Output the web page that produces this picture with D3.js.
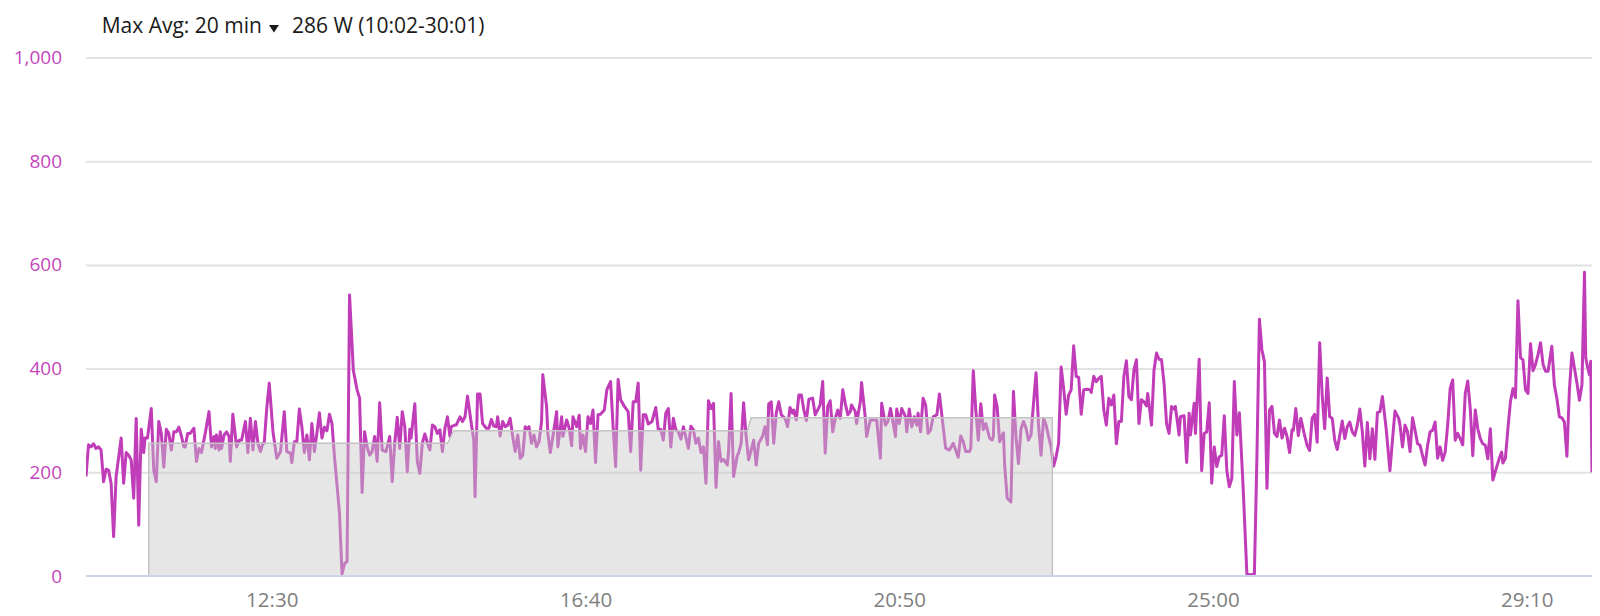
<!DOCTYPE html>
<html>
<head>
<meta charset="utf-8">
<script src="https://cdn.jsdelivr.net/npm/d3@7"></script>
<style>
  body { margin: 0; background: #fff; }
  svg { display: block; font-family: "Open Sans", sans-serif; }
</style>
</head>
<body>
<div id="app"></div>
<script>
`use strict`;

// [elapsed seconds, watts]
const power = [
  [602,192],[604,253],[606,249],[608,255],[610,246],[612,249],[614,243],[616,182],[618,206],[620,204],[622,179],[624,76],[626,192],[630,266],[632,179],[634,238],[636,233],[638,224],[640,150],[642,304],[644,98],[646,283],[648,238],[649,266],[651,266],[654,323],[656,204],[658,182],[660,298],[662,275],[664,210],[666,283],[668,275],[670,243],[672,278],[674,278],[676,287],[678,270],[680,249],[681,249],[683,275],[685,275],[688,285],[690,221],[692,246],[694,238],[697,275],[700,317],[702,249],[704,269],[705,246],[706,272],[708,243],[709,278],[710,246],[712,272],[714,278],[716,269],[717,221],[719,312],[722,249],[724,262],[726,262],[729,298],[731,238],[733,304],[735,243],[737,298],[739,256],[741,240],[743,256],[744,256],[746,323],[748,372],[751,278],[754,227],[757,240],[760,317],[762,240],[765,237],[766,219],[768,259],[770,259],[772,322],[774,288],[776,238],[778,272],[780,224],[782,294],[784,240],[786,276],[788,315],[790,266],[792,287],[794,280],[796,312],[798,294],[800,230],[804,121],[806,4],[808,24],[810,28],[812,542],[815,397],[818,359],[820,343],[822,161],[824,278],[826,249],[828,233],[830,240],[832,269],[834,221],[836,334],[838,243],[841,240],
  [844,269],[846,182],[848,256],[850,306],[852,246],[854,317],[856,288],[858,201],[860,283],[861,266],[864,332],[866,221],[868,198],[870,256],[872,274],[875,249],[876,243],[878,291],[880,288],[882,275],[884,282],[886,240],[888,285],[890,307],[892,269],[893,288],[896,291],[897,291],[900,307],[902,298],[904,307],[906,347],[909,294],[911,262],[912,153],[914,351],[916,351],[918,294],[921,285],[923,285],[925,302],[927,289],[929,288],[930,307],[932,270],[934,298],[936,288],[938,291],[940,304],[942,269],[944,240],[946,272],[948,227],[950,233],[952,288],[953,282],[955,288],[957,256],[959,272],[961,249],[963,259],[965,298],[966,388],[969,327],[970,275],[972,238],[974,269],[977,317],[978,249],[981,307],[982,269],[985,301],[987,285],[989,251],[990,307],[993,288],[995,310],[996,246],[998,272],[1000,240],[1002,307],[1004,294],[1006,320],[1008,219],[1010,311],[1012,312],[1015,320],[1017,359],[1020,375],[1022,288],[1024,211],[1026,379],[1028,340],[1031,327],[1034,317],[1036,240],[1038,336],[1040,336],[1042,372],[1044,204],[1046,311],[1048,311],[1050,293],[1053,298],[1056,325],[1058,282],[1060,283],[1062,262],[1064,314],[1066,323],[1068,249],[1070,304],[1072,282],[1074,278],[1076,264],[1078,288],[1082,246],
  [1084,289],[1086,282],[1088,256],[1090,266],[1092,238],[1094,249],[1096,179],[1098,338],[1100,323],[1102,333],[1104,171],[1106,259],[1108,221],[1110,225],[1113,214],[1114,240],[1116,352],[1118,192],[1121,233],[1122,237],[1124,256],[1126,334],[1128,269],[1130,224],[1132,243],[1134,262],[1136,214],[1138,256],[1141,269],[1143,288],[1145,253],[1146,332],[1148,336],[1150,256],[1152,314],[1154,336],[1156,311],[1159,304],[1161,288],[1163,325],[1165,314],[1166,320],[1168,301],[1170,349],[1172,349],[1174,320],[1176,300],[1178,341],[1181,343],[1183,311],[1185,320],[1187,330],[1189,375],[1191,237],[1193,327],[1195,338],[1197,278],[1199,304],[1201,320],[1203,304],[1205,359],[1207,333],[1209,311],[1211,317],[1212,330],[1215,317],[1216,294],[1219,336],[1220,373],[1223,304],[1224,269],[1227,301],[1229,301],[1232,301],[1235,227],[1236,333],[1239,291],[1241,298],[1243,323],[1244,311],[1247,269],[1248,322],[1250,294],[1252,323],[1255,307],[1256,278],[1258,322],[1260,288],[1262,307],[1264,291],[1265,314],[1267,278],[1269,343],[1271,330],[1273,275],[1275,282],[1277,307],[1280,311],[1282,351],[1285,288],[1287,246],[1290,243],[1293,256],[1297,229],[1299,270],[1301,259],[1303,240],[1306,240],[1307,246],[1309,396],[1311,320],[1313,262],[1315,332],[1317,282],[1319,294],[1322,266],
  [1324,262],[1325,269],[1326,349],[1328,327],[1330,259],[1333,276],[1334,214],[1336,150],[1339,143],[1341,356],[1343,269],[1345,217],[1347,283],[1349,298],[1351,285],[1353,262],[1355,272],[1357,333],[1359,392],[1361,291],[1363,233],[1365,304],[1367,291],[1369,269],[1371,249],[1373,212],[1375,230],[1377,256],[1379,403],[1381,362],[1383,312],[1385,349],[1387,359],[1389,444],[1391,385],[1393,383],[1395,312],[1397,359],[1400,360],[1402,359],[1403,354],[1405,385],[1407,375],[1409,381],[1411,385],[1413,320],[1415,291],[1417,343],[1419,330],[1421,349],[1423,255],[1425,298],[1427,298],[1429,385],[1431,415],[1433,346],[1435,340],[1437,397],[1439,417],[1441,294],[1443,340],[1445,336],[1447,328],[1448,352],[1451,291],[1453,397],[1455,430],[1457,418],[1459,417],[1461,372],[1463,294],[1465,275],[1467,327],[1469,322],[1470,327],[1473,272],[1474,307],[1477,309],[1479,219],[1481,314],[1482,272],[1485,333],[1486,275],[1489,418],[1491,203],[1493,275],[1495,278],[1497,334],[1499,179],[1501,249],[1503,211],[1505,230],[1507,233],[1509,309],[1511,204],[1513,172],[1515,188],[1517,375],[1519,272],[1521,315],[1524,172],[1527,4],[1530,2],[1533,4],[1535,230],[1537,495],[1539,436],[1541,413],[1543,169],[1545,320],[1547,327],[1549,275],[1551,269],[1553,301],[1555,266],[1557,285],[1559,269],[1561,238],[1563,282],
  [1564,281],[1566,323],[1568,271],[1570,304],[1573,271],[1575,252],[1577,242],[1579,304],[1581,312],[1583,258],[1585,450],[1587,349],[1589,284],[1591,382],[1593,307],[1595,304],[1597,262],[1599,244],[1601,271],[1603,299],[1605,265],[1607,288],[1609,297],[1611,278],[1613,271],[1615,291],[1617,322],[1619,278],[1621,212],[1623,296],[1625,226],[1627,284],[1629,225],[1631,315],[1633,317],[1635,346],[1638,284],[1641,203],[1643,262],[1645,318],[1648,304],[1649,291],[1651,249],[1653,291],[1655,278],[1657,240],[1659,305],[1661,281],[1663,255],[1665,252],[1667,232],[1669,214],[1671,252],[1673,278],[1675,281],[1677,297],[1679,227],[1681,249],[1683,223],[1685,239],[1687,291],[1689,362],[1691,378],[1693,262],[1695,275],[1697,265],[1699,253],[1701,352],[1703,376],[1705,323],[1707,232],[1709,320],[1711,284],[1713,265],[1715,255],[1717,252],[1719,226],[1721,284],[1723,185],[1726,210],[1728,226],[1730,239],[1731,218],[1733,227],[1735,284],[1737,336],[1739,361],[1741,344],[1743,531],[1745,421],[1747,417],[1749,359],[1751,352],[1753,448],[1755,396],[1757,408],[1759,427],[1761,450],[1763,408],[1765,395],[1767,395],[1770,443],[1772,369],[1774,343],[1776,307],[1778,305],[1780,297],[1782,231],[1784,359],[1786,430],[1788,401],[1790,372],[1792,339],[1794,369],[1796,586],[1797,421],[1798,408],[1800,388],[1801,414],[1802,200]
];

// lap averages shown as the grey band
const lapSecs = [652, 890, 895, 1129, 1132, 1372];
const lapWatts = [256, 256, 280, 280, 305, 305];

const yTicks = [0, 200, 400, 600, 800, 1000];
const xTicks = [750, 1000, 1250, 1500, 1750];
const xDomain = [602, 1802];
const title = [`Max Avg: 20 min`, `286 W (10:02-30:01)`];

const W = 1600, H = 616;
const box = {left: 86, right: 1592, top: 57.5, bottom: 576};

const x = d3.scaleLinear().domain(xDomain).range([box.left, box.right]);
const y = d3.scaleLinear().domain([0, 1000]).range([box.bottom, box.top]);

const clock = s => Math.floor(s / 60) + `:` + String(s % 60).padStart(2, `0`);

const SVG = d3.select(`#app`).append(`svg`).attr(`width`, W).attr(`height`, H);

SVG.append(`defs`).append(`clipPath`).attr(`id`, `plot`).append(`rect`)
  .attr(`x`, box.left).attr(`y`, 0).attr(`width`, box.right - box.left).attr(`height`, box.bottom + 4);

/** grid **/

SVG.append(`g`).attr(`transform`, `translate(${box.left},0)`)
  .call(d3.axisLeft(y).tickValues(yTicks.slice(1)).tickSize(-(box.right - box.left)).tickFormat(``))
  .call(g => g.select(`.domain`).remove())
  .selectAll(`line`).attr(`stroke`, `#e2e2e2`).attr(`stroke-width`, 2);

/** power line **/

SVG.append(`path`).datum(power)
  .attr(`clip-path`, `url(#plot)`)
  .attr(`d`, d3.line().x(d => x(d[0])).y(d => y(d[1])))
  .attr(`fill`, `none`)
  .attr(`stroke`, `#c03cb8`)
  .attr(`stroke-width`, 3)
  .attr(`stroke-linejoin`, `round`);

/** lap band, drawn over the line **/

let Lap = lapSecs.map((s, i) => [s, lapWatts[i]]);

SVG.append(`path`).datum(Lap)
  .attr(`d`, d3.area().x(d => x(d[0])).y0(y(0)).y1(d => y(d[1])))
  .attr(`fill`, `rgba(200,200,200,0.45)`);

SVG.append(`path`).datum([[lapSecs[0], 0], ...Lap, [lapSecs[lapSecs.length - 1], 0]])
  .attr(`d`, d3.line().x(d => x(d[0])).y(d => y(d[1])))
  .attr(`fill`, `none`)
  .attr(`stroke`, `#c4c4c4`)
  .attr(`stroke-width`, 1.5);

/** axes **/

SVG.append(`line`)
  .attr(`x1`, box.left).attr(`x2`, box.right)
  .attr(`y1`, y(0)).attr(`y2`, y(0))
  .attr(`stroke`, `#ccd6eb`).attr(`stroke-width`, 2);

SVG.append(`g`).attr(`transform`, `translate(${box.left},0)`)
  .call(d3.axisLeft(y).tickValues(yTicks).tickSize(0).tickPadding(24).tickFormat(d3.format(`,`)))
  .call(g => g.select(`.domain`).remove())
  .selectAll(`text`)
  .attr(`fill`, `#c445bc`)
  .style(`font-size`, `19px`)
  .style(`font-family`, `"Open Sans", sans-serif`);

SVG.append(`g`).attr(`transform`, `translate(0,${box.bottom})`)
  .call(d3.axisBottom(x).tickValues(xTicks).tickSize(0).tickPadding(16).tickFormat(clock))
  .call(g => g.select(`.domain`).remove())
  .selectAll(`text`)
  .attr(`fill`, `#808080`)
  .style(`font-size`, `20.5px`)
  .style(`font-family`, `"Open Sans", sans-serif`);

/** title **/

let T1 = SVG.append(`text`)
  .attr(`x`, 101.7).attr(`y`, 32.5)
  .attr(`fill`, `#1a1a1a`)
  .style(`font-size`, `21px`)
  .text(title[0]);

let tx = 101.7 + T1.node().getComputedTextLength() + 7;

SVG.append(`path`)
  .attr(`d`, `M${tx},25 L${tx + 10},25 L${tx + 5},32.5 Z`)
  .attr(`fill`, `#1a1a1a`);

SVG.append(`text`)
  .attr(`x`, tx + 23).attr(`y`, 32.5)
  .attr(`fill`, `#1a1a1a`)
  .style(`font-size`, `21px`)
  .text(title[1]);
</script>
</body>
</html>
